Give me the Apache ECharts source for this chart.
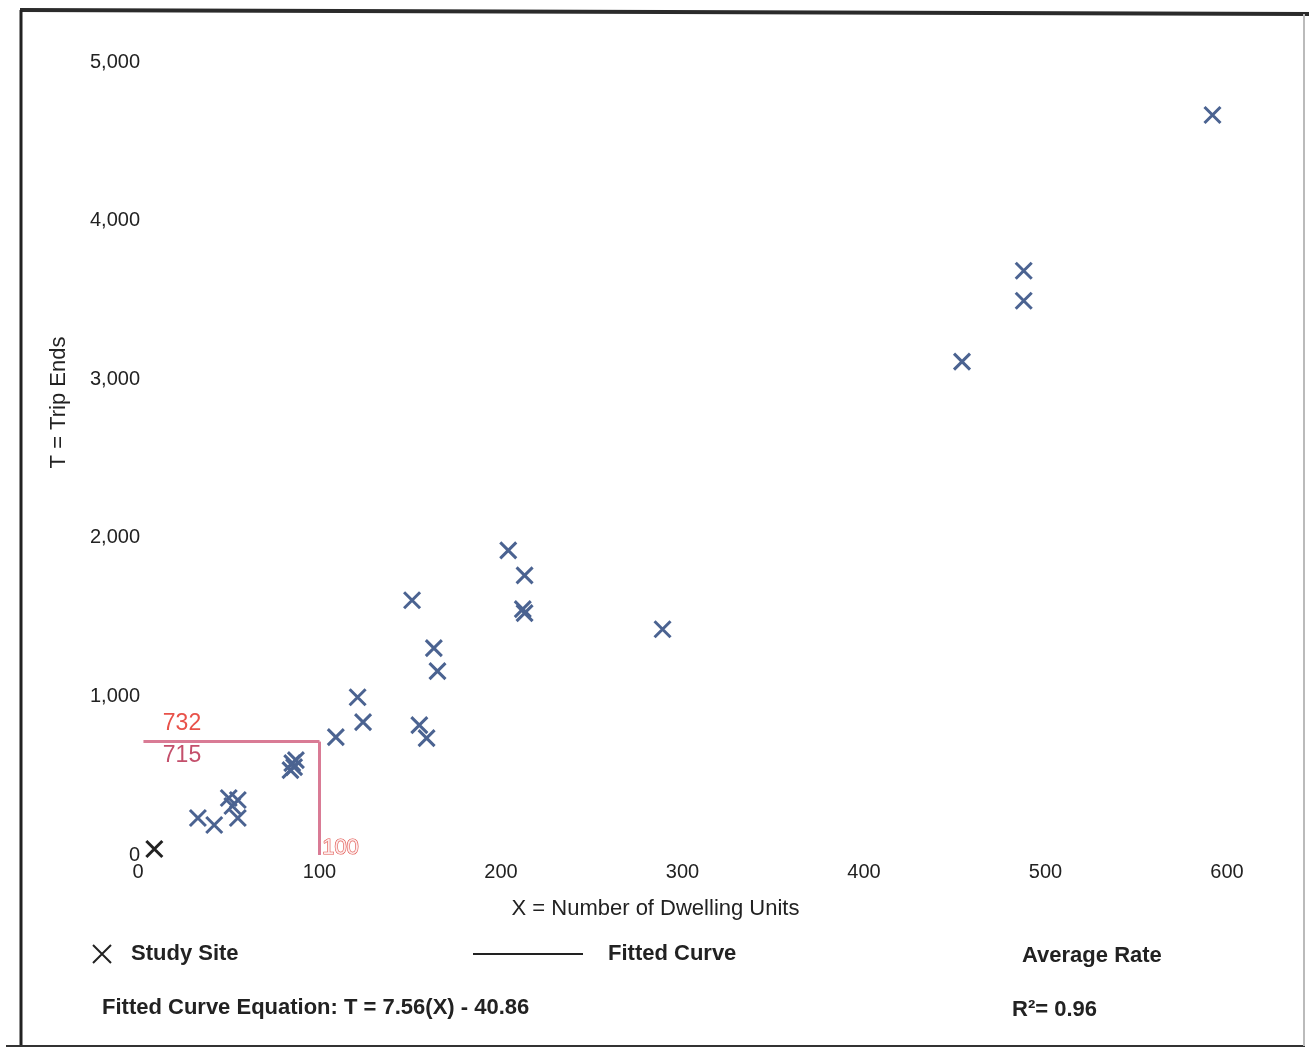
<!DOCTYPE html>
<html>
<head>
<meta charset="utf-8">
<script src="https://cdn.jsdelivr.net/npm/echarts@6/dist/echarts.min.js"></script>
<style>
  html, body { margin: 0; padding: 0; background: #fff; }
  #chart { width: 1309px; height: 1049px; }
</style>
</head>
<body>
<div id="chart"></div>
<script>
// study sites: X = number of dwelling units, T = trip ends
const dwellingUnits = [9, 33, 42, 55, 50, 55, 52, 85, 87, 84, 86, 109, 121, 124, 155, 159, 151, 163, 165, 204, 213, 212, 213, 289, 454, 488, 488, 592];
const tripEnds = [38, 233, 189, 233, 359, 347, 309, 579, 598, 535, 554, 743, 995, 838, 819, 737, 1606, 1304, 1159, 1921, 1763, 1550, 1525, 1423, 3111, 3684, 3495, 4666];

const xTicks = [0, 100, 200, 300, 400, 500, 600];
const yTicks = [0, 1000, 2000, 3000, 4000, 5000];

// hand-drawn red annotation
const annoX = 100;
const annoFit = 715;
const annoAvg = 732;

const xMark = "path://M0,0L10,10M10,0L0,10";
const blue = "#4b6391";
const red = "#e8524a";

const points = dwellingUnits.map((x, i) => {
  const p = { value: [x, tripEnds[i]] };
  if (i === 0) p.itemStyle = { borderColor: "#222" };
  return p;
});

const chart = echarts.init(document.getElementById("chart"));

const boldText = { color: "#222", fontSize: 22, fontWeight: "bold" };

const option = {
  animation: false,
  backgroundColor: "#fff",
  textStyle: { fontFamily: "Liberation Sans, Arial, sans-serif" },
  grid: { left: 138, right: 82, top: 62, bottom: 194, containLabel: false },
  xAxis: {
    type: "value",
    min: xTicks[0],
    max: xTicks[xTicks.length - 1],
    interval: 100,
    name: "X = Number of Dwelling Units",
    nameLocation: "middle",
    nameGap: 43,
    nameTextStyle: { color: "#222", fontSize: 22, padding: [0, 54, 0, 0] },
    axisLine: { show: false },
    axisTick: { show: false },
    splitLine: { show: false },
    axisLabel: { color: "#222", fontSize: 20, margin: 7 },
  },
  yAxis: {
    type: "value",
    min: yTicks[0],
    max: yTicks[yTicks.length - 1],
    interval: 1000,
    name: "T = Trip Ends",
    nameLocation: "middle",
    nameGap: 68,
    nameTextStyle: { color: "#222", fontSize: 22, padding: [0, 0, 0, 112] },
    axisLine: { show: false },
    axisTick: { show: false },
    splitLine: { show: false },
    axisLabel: {
      color: "#222",
      fontSize: 20,
      margin: -2,
      formatter: (v) => v.toLocaleString("en-US"),
    },
  },
  legend: [
    {
      left: 92,
      top: 943,
      padding: 0,
      itemWidth: 18,
      itemHeight: 18,
      data: [{ name: "Study Site", icon: xMark, itemStyle: { color: "rgba(0,0,0,0)", borderColor: "#222", borderWidth: 2 } }],
      textStyle: Object.assign({}, boldText, { padding: [0, 0, 0, 15] }),
    },
    {
      left: 473,
      top: 943,
      padding: 0,
      itemWidth: 110,
      itemHeight: 2,
      icon: "rect",
      data: [{ name: "Fitted Curve", itemStyle: { color: "#222" } }],
      textStyle: Object.assign({}, boldText, { padding: [0, 0, 0, 20] }),
    },
  ],
  title: [
    { text: "Average Rate", left: 1022, top: 945, padding: 0, textStyle: boldText },
    { text: "Fitted Curve Equation: T = 7.56(X) - 40.86", left: 102, top: 997, padding: 0, textStyle: boldText },
    { text: "R²= 0.96", left: 1012, top: 999, padding: 0, textStyle: boldText },
  ],
  graphic: [
    // scanned page frame
    { type: "line", shape: { x1: 20, y1: 10, x2: 1309, y2: 14 }, style: { stroke: "#2b2b2b", lineWidth: 4 } },
    { type: "line", shape: { x1: 21, y1: 10, x2: 21, y2: 1046 }, style: { stroke: "#222", lineWidth: 3 } },
    { type: "line", shape: { x1: 6, y1: 1046, x2: 1305, y2: 1046 }, style: { stroke: "#333", lineWidth: 2 } },
    { type: "line", shape: { x1: 1304, y1: 14, x2: 1304, y2: 1046 }, style: { stroke: "#bbb", lineWidth: 2 } },
  ],
  series: [
    {
      name: "Study Site",
      type: "scatter",
      symbol: xMark,
      symbolSize: 16,
      itemStyle: { color: "rgba(0,0,0,0)", borderColor: blue, borderWidth: 3, opacity: 1 },
      data: points,
      markLine: {
        silent: true,
        symbol: "none",
        label: { show: false },
        lineStyle: { color: "#d97b95", width: 3, type: "solid" },
        data: [
          [{ coord: [3, annoFit] }, { coord: [annoX, annoFit] }],
          [{ coord: [annoX, annoFit] }, { coord: [annoX, 0] }],
        ],
      },
      markPoint: {
        silent: true,
        symbol: "circle",
        symbolSize: 0,
        data: [
          { coord: [0, annoFit], label: { formatter: String(annoAvg), color: red, fontSize: 23, offset: [44, -18] } },
          { coord: [0, annoFit], label: { formatter: String(annoFit), color: "#c4506c", fontSize: 23, offset: [44, 14] } },
          { coord: [annoX, 0], label: { formatter: String(annoX), color: "#fdeaea", textBorderColor: "#e0504a", textBorderWidth: 1.2, fontSize: 22, offset: [21, -7] } },
        ],
      },
    },
    {
      name: "Fitted Curve",
      type: "line",
      data: [],
      showSymbol: false,
      lineStyle: { color: "#222", width: 2 },
    },
  ],
};

chart.setOption(option);
</script>
</body>
</html>
